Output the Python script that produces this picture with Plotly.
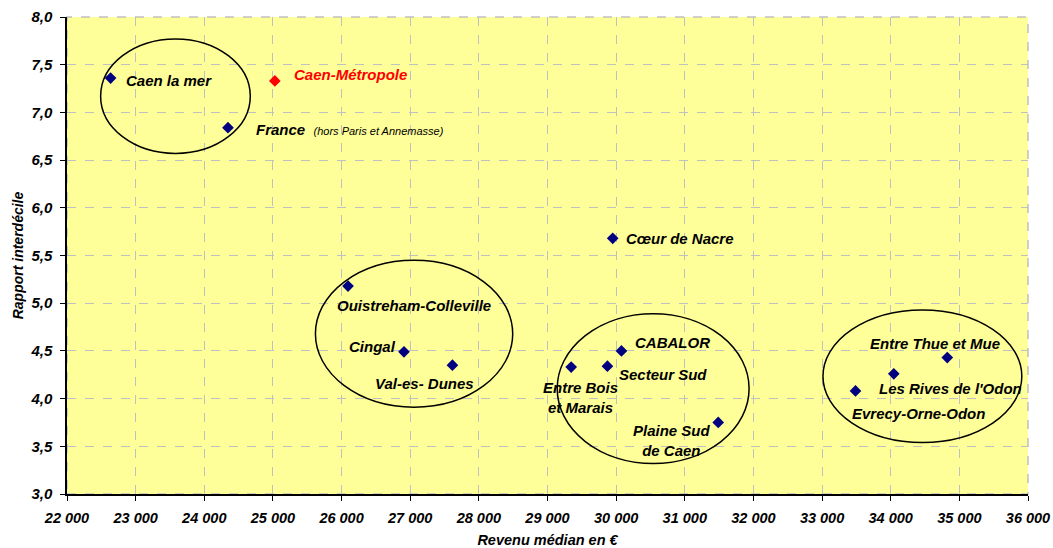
import plotly.graph_objects as go

# données
territoires = ["Caen la mer", "France", "Ouistreham-Colleville", "Cingal", "Val-es- Dunes",
               "Cœur de Nacre", "Entre Bois et Marais", "Secteur Sud", "CABALOR",
               "Plaine Sud de Caen", "Entre Thue et Mue", "Les Rives de l'Odon", "Evrecy-Orne-Odon"]
revenu_median = [22635, 24345, 26094, 26909, 27615, 29950, 29345, 29873, 30077, 31487, 34824, 34045, 33487]
rapport_interdecile = [7.36, 6.84, 5.18, 4.49, 4.35, 5.68, 4.33, 4.34, 4.50, 3.75, 4.43, 4.26, 4.08]

metropole_nom = "Caen-Métropole"
metropole_revenu = [25028]
metropole_rapport = [7.33]

# étiquettes (texte, x, y)
etiquettes = [
    ("Caen la mer", 23483, 7.33),
    ("Ouistreham-Colleville", 27058, 4.98),
    ("Cingal", 26452, 4.545),
    ("Val-es- Dunes", 27208, 4.16),
    ("Cœur de Nacre", 30925, 5.68),
    ("CABALOR", 30827, 4.59),
    ("Secteur Sud", 30689, 4.25),
    ("Entre Bois<br>et Marais", 29481, 4.01),
    ("Plaine Sud<br>de Caen", 30813, 3.56),
    ("Entre Thue et Mue", 34638, 4.58),
    ("Les Rives de l'Odon", 34866, 4.11),
    ("Evrecy-Orne-Odon", 34406, 3.84),
]

# ellipses de regroupement (x0, x1, y0, y1)
groupes = [
    (22490, 24670, 6.57, 7.77),
    (25619, 28493, 3.91, 5.45),
    (29141, 31937, 3.32, 4.89),
    (33013, 35910, 3.54, 4.93),
]

FONT = "Arial, Liberation Sans, sans-serif"


def bi(size, color="black"):
    return dict(family=FONT, size=size, color=color, weight="bold", style="italic")


fig = go.Figure()
fig.add_trace(go.Scatter(
    x=revenu_median, y=rapport_interdecile, mode="markers", text=territoires,
    marker=dict(symbol="diamond", size=9, color="#000080"), hoverinfo="text+x+y",
))
fig.add_trace(go.Scatter(
    x=metropole_revenu, y=metropole_rapport, mode="markers", text=[metropole_nom],
    marker=dict(symbol="diamond", size=9, color="#FF0000"), hoverinfo="text+x+y",
))

for txt, x, y in etiquettes:
    fig.add_annotation(x=x, y=y, text=txt, showarrow=False, font=bi(15))

fig.add_annotation(x=26128, y=7.40, text=metropole_nom, showarrow=False, font=bi(15, "#FF0000"))
fig.add_annotation(x=24718, y=6.82, xanchor="left", showarrow=False,
                   text="France  <span style='font-weight:normal;font-size:11px'>(hors Paris et Annemasse)</span>",
                   font=bi(15))

for x0, x1, y0, y1 in groupes:
    fig.add_shape(type="circle", xref="x", yref="y", x0=x0, x1=x1, y0=y0, y1=y1,
                  line=dict(color="black", width=1.5))

# cadre pointillé haut / droite
fig.add_shape(type="rect", xref="paper", yref="paper", x0=0, x1=1, y0=0, y1=1,
              line=dict(color="#C0C0C0", width=1.5, dash="dash"), layer="below")

fig.update_xaxes(range=[22000, 36000], dtick=1000, tickformat=",d", automargin=False,
                 showgrid=True, gridcolor="#C0C0C0", griddash="dash", gridwidth=1,
                 showline=True, linecolor="black", linewidth=1.5,
                 ticks="outside", ticklen=5, tickcolor="black", tickfont=bi(14.5),
                 ticklabelstandoff=5, ticklabeloverflow="allow", zeroline=False,
                 title=dict(text="Revenu médian en €", font=bi(14.5), standoff=11))
fig.update_yaxes(range=[3, 8], dtick=0.5, tickformat=".1f", automargin=False,
                 showgrid=True, gridcolor="#C0C0C0", griddash="dash", gridwidth=1,
                 showline=True, linecolor="black", linewidth=1.5,
                 ticks="outside", ticklen=5, tickcolor="black", tickfont=bi(15),
                 ticklabelstandoff=5, ticklabeloverflow="allow", zeroline=False,
                 title=dict(text="Rapport interdécile", font=bi(14), standoff=3))
fig.update_layout(
    width=1053, height=548, separators=", ",
    plot_bgcolor="#FFFF99", paper_bgcolor="white",
    showlegend=False,
    margin=dict(l=67, r=25, t=17, b=54),
)
# pas de marge de page, la figure remplit exactement la fenêtre
fig.write_html("out.html", config={"displayModeBar": False},
               post_script="document.body.style.margin='0';document.body.style.overflow='hidden';")
